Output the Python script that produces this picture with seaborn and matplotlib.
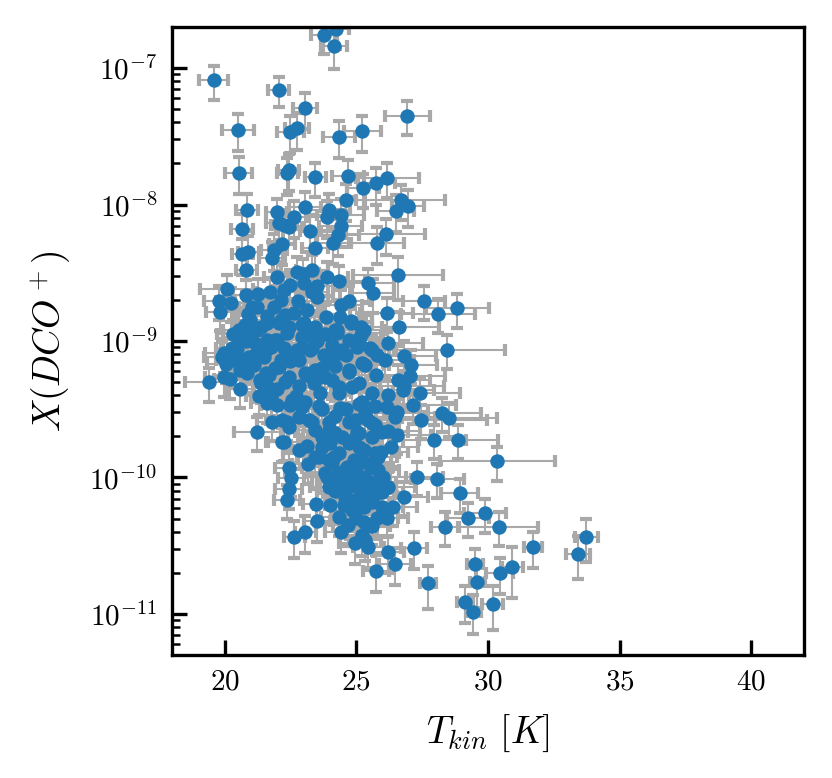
import numpy as np
import pandas as pd
import matplotlib
matplotlib.use("Agg")
import matplotlib.pyplot as plt
import seaborn as sns

# Kinetic temperature [K] of each source
t_kin = [
    23.78, 24.24, 24.16, 19.58, 22.06, 23.05, 20.51, 22.50, 22.76, 24.34,
    25.23, 26.93, 20.53, 22.38, 22.43, 23.44, 24.68, 25.26, 25.76, 26.17,
    24.62, 26.68, 26.96, 26.49, 20.85, 20.66, 21.97, 22.06, 22.25, 22.44,
    22.63, 23.06, 23.95, 23.90, 24.40, 23.26, 24.40, 24.31, 26.11, 25.80,
    24.12, 22.17, 21.87, 20.89, 23.42, 20.67, 20.83, 21.81, 22.00, 20.08,
    22.73, 22.99, 23.31, 23.90, 24.34, 25.45, 26.58, 22.50, 23.52, 25.62,
    27.56, 28.09, 28.83, 26.15, 24.71, 24.43, 26.63, 26.22, 28.44, 26.83,
    27.07, 27.05, 26.83, 26.76, 27.42, 26.20, 27.17, 26.16, 25.72, 26.54,
    28.25, 28.53, 27.46, 26.48, 27.96, 28.88, 25.09, 24.39, 23.57, 23.04,
    25.72, 26.22, 26.54, 24.33, 25.59, 25.09, 24.83, 24.07, 23.38, 23.63,
    25.74, 25.34, 24.71, 23.95, 24.45, 25.53, 25.78, 25.15, 25.02, 25.28,
    25.19, 24.26, 23.82, 23.44, 24.07, 23.31, 22.93, 24.39, 23.84, 23.31,
    22.93, 23.06, 22.81, 22.93, 23.31, 23.95, 24.71, 25.34, 25.02, 24.07,
    25.97, 19.80, 19.81, 20.25, 20.83, 21.26, 21.71, 21.05, 21.87, 20.96,
    20.54, 21.37, 22.28, 22.78, 22.13, 23.52, 21.62, 22.00, 22.38, 23.01,
    23.39, 19.97, 20.48, 20.04, 20.61, 21.11, 21.18, 21.75, 22.25, 22.13,
    22.76, 23.26, 23.77, 19.40, 19.97, 20.86, 21.37, 21.56, 21.75, 22.82,
    22.50, 21.62, 21.24, 21.81, 22.38, 20.28, 20.59, 21.04, 21.35, 21.67,
    21.98, 22.24, 22.43, 21.92, 21.23, 24.33, 25.09, 23.69, 22.17, 22.43,
    22.53, 22.43, 22.36, 23.16, 23.12, 23.48, 23.50, 23.06, 22.64, 24.35,
    24.52, 24.07, 24.33, 24.33, 24.58, 24.96, 25.21, 25.34, 24.90, 25.59,
    25.84, 25.72, 25.97, 25.59, 25.97, 25.28, 25.59, 25.34, 25.46, 25.74,
    26.22, 26.48, 26.16, 26.41, 26.83, 25.95, 26.33, 27.29, 28.08, 28.92,
    29.89, 29.23, 28.35, 27.20, 27.71, 29.51, 29.60, 29.13, 29.45, 30.36,
    30.40, 31.70, 33.74, 33.41, 30.44, 30.93, 30.18,
    24.14, 24.33, 24.58, 24.71, 24.20, 23.69, 23.44, 25.09, 25.09, 25.59,
    25.84, 24.58, 24.83, 25.15, 24.71,
    24.20, 24.64, 24.96, 25.34, 23.95, 25.21, 25.72, 25.46, 24.96, 23.95,
    23.19, 22.81, 22.43, 22.17, 23.06, 23.44, 23.82, 24.33, 24.71, 25.21,
    25.59, 25.21, 24.71, 24.20, 23.44, 22.93, 22.43, 21.58, 20.91, 20.28,
    19.90, 20.53, 20.78, 22.05, 22.05, 22.43, 21.67, 22.55, 22.81, 23.44,
    23.82, 24.20, 23.95, 26.09, 26.60, 26.22, 20.99, 21.62, 22.13, 22.63,
    23.14, 23.01, 22.25, 21.24, 24.78, 24.28,
    24.00, 24.45, 24.90, 25.30, 25.50, 25.00, 24.50, 24.80, 25.10, 25.45,
    25.70, 25.30, 25.00, 24.70, 25.20, 24.95, 24.20, 23.90, 24.00, 24.40,
    25.80, 26.00, 25.60, 24.60, 25.20, 23.70, 24.20, 23.60,
    20.30, 20.80, 21.20, 21.50, 21.90, 22.30, 22.00, 21.30, 20.60, 20.20,
    20.90, 21.60, 22.50, 22.70,
    23.70, 24.20, 24.60, 23.50, 24.80, 23.10,
]

# log10 of the DCO+ abundance
log_x = [
    -6.756, -6.716, -6.837, -7.090, -7.159, -7.295, -7.454, -7.466, -7.442, -7.505,
    -7.462, -7.349, -7.767, -7.772, -7.747, -7.801, -7.791, -7.881, -7.845, -7.806,
    -7.967, -7.967, -8.011, -8.045, -8.040, -8.180, -8.057, -8.138, -8.150, -8.162,
    -8.089, -8.020, -8.040, -8.089, -8.077, -8.192, -8.155, -8.223, -8.218, -8.280,
    -8.280, -8.289, -8.333, -8.346, -8.321, -8.363, -8.480, -8.390, -8.529, -8.621,
    -8.492, -8.509, -8.480, -8.529, -8.558, -8.577, -8.516, -8.589, -8.597, -8.651,
    -8.704, -8.802, -8.761, -8.793, -8.704, -8.736, -8.895, -9.012, -9.066, -9.108,
    -9.176, -9.256, -9.327, -9.359, -9.379, -9.398, -9.469, -9.481, -9.474, -9.518,
    -9.525, -9.562, -9.579, -9.554, -9.725, -9.725, -9.464, -9.493, -9.474, -9.445,
    -9.615, -9.657, -9.689, -9.383, -9.379, -9.310, -9.334, -9.286, -9.310, -9.383,
    -9.249, -9.176, -9.225, -9.127, -9.066, -9.054, -9.103, -8.968, -9.042, -8.919,
    -8.899, -8.919, -8.951, -8.899, -9.029, -9.054, -9.054, -8.822, -8.822, -8.639,
    -8.883, -8.956, -9.139, -9.481, -9.591, -9.591, -9.591, -9.530, -9.664, -9.664,
    -9.669, -8.707, -8.785, -8.719, -8.663, -8.656, -8.643, -8.753, -8.753, -8.846,
    -8.919, -8.899, -8.809, -8.707, -8.700, -8.675, -8.993, -8.993, -8.944, -8.871,
    -8.919, -9.090, -9.066, -9.168, -9.139, -9.176, -9.095, -9.042, -9.054, -9.139,
    -9.066, -9.066, -9.103, -9.303, -9.266, -9.237, -9.310, -9.237, -9.408, -9.330,
    -9.469, -9.457, -9.664, -9.591, -9.591, -9.054, -9.212, -9.163, -9.286, -9.346,
    -9.469, -9.737, -9.090, -8.993, -8.919, -9.090, -9.017, -9.774, -9.742, -9.928,
    -10.001, -10.087, -10.165, -9.903, -9.769, -10.194, -10.316, -10.397, -10.433, -10.287,
    -10.201, -9.896, -9.969, -10.042, -10.092, -10.165, -10.079, -9.994, -9.872, -9.921,
    -9.945, -10.030, -10.104, -10.177, -10.214, -10.323, -10.355, -10.458, -10.511, -10.683,
    -10.543, -10.634, -10.294, -10.214, -10.140, -9.811, -9.779, -9.994, -10.011, -10.116,
    -10.262, -10.294, -10.360, -10.514, -10.776, -10.636, -10.768, -10.910, -10.983, -9.883,
    -10.360, -10.511, -10.433, -10.560, -10.702, -10.658, -10.929,
    -9.847, -9.823, -9.945, -9.750, -9.677, -9.701, -9.652, -9.774, -9.677, -9.701,
    -9.847, -10.140, -10.238, -10.140, -10.018,
    -9.994, -9.921, -10.042, -10.116, -9.872, -9.872, -9.823, -9.579, -9.579, -9.652,
    -9.579, -9.554, -9.627, -9.579, -9.237, -9.212, -9.261, -9.334, -9.212, -9.163,
    -9.066, -8.944, -8.993, -8.919, -8.993, -8.968, -8.895, -9.066, -9.115, -9.139,
    -9.115, -8.968, -8.883, -8.871, -9.188, -9.261, -9.249, -9.432, -9.798, -9.847,
    -9.969, -10.067, -10.067, -9.139, -9.286, -10.067, -8.968, -8.871, -8.846, -8.797,
    -8.773, -8.577, -8.626, -8.748, -8.871, -8.944,
    -9.750, -9.700, -9.720, -9.800, -9.900, -9.930, -10.050, -10.060, -10.000, -10.050,
    -10.120, -10.220, -10.300, -10.350, -10.420, -10.480, -10.100, -10.000, -10.200, -10.400,
    -10.300, -10.000, -9.600, -9.500, -9.450, -9.500, -9.550, -9.850,
    -8.950, -9.000, -9.020, -9.120, -9.200, -9.300, -9.350, -9.400, -9.350, -9.280,
    -8.800, -8.820, -9.150, -9.400,
    -9.200, -9.180, -9.100, -9.000, -8.850, -9.250,
]

# temperature uncertainty [K]
t_err = [
    0.5, 0.5, 0.5, 0.55, 0.4, 0.45, 0.6, 0.5, 0.45, 0.6,
    0.7, 0.85, 0.5, 0.4, 0.4, 0.4, 0.6, 0.6, 0.7, 1.2,
    0.7, 1.7, 0.6, 0.7, 0.4, 0.4, 0.4, 0.5, 0.5, 0.5,
    0.5, 0.6, 0.8, 0.7, 0.9, 0.4, 0.8, 0.8, 1.5, 1.0,
    0.6, 0.5, 0.5, 0.4, 0.5, 0.4, 0.4, 0.5, 0.5, 1.0,
    0.6, 0.6, 0.6, 0.8, 1.0, 1.0, 1.7, 0.6, 0.6, 0.8,
    0.8, 1.4, 1.2, 1.0, 0.8, 0.8, 1.5, 1.3, 2.2, 1.2,
    1.0, 1.3, 1.5, 1.2, 1.5, 0.8, 1.6, 1.0, 0.8, 1.2,
    1.5, 1.8, 2.5, 1.5, 1.2, 1.5, 0.8, 0.8, 0.7, 0.7,
    0.9, 1.2, 1.3, 0.8, 0.8, 0.8, 0.8, 0.7, 0.7, 0.7,
    0.9, 0.9, 0.8, 0.8, 0.8, 0.9, 1.0, 0.8, 0.8, 0.8,
    0.8, 0.7, 0.7, 0.7, 0.7, 0.7, 0.7, 0.7, 0.7, 0.6,
    0.6, 0.6, 0.6, 0.7, 0.7, 0.7, 0.8, 0.8, 0.8, 0.7,
    1.0, 0.6, 0.5, 0.5, 0.5, 0.5, 0.5, 0.5, 0.5, 0.5,
    0.6, 0.5, 0.6, 0.6, 0.6, 0.6, 0.5, 0.5, 0.6, 0.6,
    0.6, 0.7, 0.6, 0.7, 0.6, 0.6, 0.6, 0.6, 0.6, 0.6,
    0.6, 0.7, 0.7, 0.9, 0.7, 0.6, 0.6, 0.6, 0.6, 0.7,
    0.6, 0.6, 0.9, 0.6, 0.6, 0.6, 0.6, 0.6, 0.6, 0.6,
    0.6, 0.6, 0.6, 0.6, 0.6, 0.8, 0.8, 0.7, 0.6, 0.5,
    0.5, 0.5, 0.5, 0.6, 0.6, 0.5, 0.5, 0.4, 0.4, 0.7,
    0.7, 0.7, 0.7, 0.7, 0.7, 0.7, 0.7, 0.7, 0.7, 0.8,
    0.8, 0.8, 0.8, 0.7, 0.8, 0.7, 0.7, 0.6, 0.6, 0.5,
    0.6, 0.6, 0.8, 0.9, 0.9, 1.0, 1.0, 1.0, 1.0, 0.7,
    0.8, 0.8, 0.5, 0.5, 0.3, 0.3, 0.3, 0.3, 0.3, 2.2,
    1.5, 0.35, 0.45, 0.45, 0.5, 0.4, 0.4,
    0.7, 0.7, 0.7, 0.7, 0.7, 0.7, 0.7, 0.7, 0.7, 0.7,
    0.7, 0.7, 0.7, 0.7, 0.7,
    0.7, 0.7, 0.7, 0.8, 0.7, 0.8, 0.9, 0.9, 0.8, 0.7,
    0.7, 0.6, 0.6, 0.6, 0.6, 0.7, 0.7, 0.8, 0.8, 0.8,
    0.9, 0.8, 0.8, 0.7, 0.7, 0.6, 0.6, 0.6, 0.6, 0.6,
    0.7, 0.6, 0.5, 0.5, 0.6, 0.6, 0.6, 0.6, 0.6, 0.7,
    0.7, 0.7, 0.7, 1.1, 1.2, 1.0, 0.5, 0.5, 0.6, 0.6,
    0.6, 0.6, 0.5, 0.5, 0.8, 0.8,
    0.7, 0.7, 0.7, 0.8, 0.8, 0.7, 0.7, 0.7, 0.7, 0.8,
    0.8, 0.7, 0.7, 0.6, 0.6, 0.6, 0.7, 0.6, 0.6, 0.6,
    0.8, 0.9, 0.8, 0.7, 0.8, 0.7, 0.7, 0.6,
    0.6, 0.5, 0.5, 0.5, 0.6, 0.6, 0.6, 0.5, 0.5, 0.6,
    0.5, 0.5, 0.6, 0.6,
    0.7, 0.7, 0.8, 0.7, 0.8, 0.6,
]

# fractional abundance uncertainty
x_frac_err = [
    0.28, 0.28, 0.32, 0.28, 0.25, 0.30, 0.30, 0.30, 0.30, 0.30,
    0.30, 0.28, 0.30, 0.30, 0.30, 0.28, 0.30, 0.28, 0.30, 0.28,
    0.30, 0.28, 0.30, 0.30, 0.30, 0.30, 0.25, 0.25, 0.25, 0.25,
    0.30, 0.30, 0.30, 0.30, 0.30, 0.30, 0.30, 0.30, 0.30, 0.30,
    0.30, 0.30, 0.30, 0.30, 0.30, 0.30, 0.30, 0.30, 0.28, 0.28,
    0.28, 0.28, 0.28, 0.28, 0.28, 0.28, 0.35, 0.28, 0.28, 0.28,
    0.28, 0.28, 0.28, 0.28, 0.28, 0.28, 0.28, 0.28, 0.28, 0.28,
    0.28, 0.28, 0.28, 0.28, 0.28, 0.28, 0.28, 0.28, 0.28, 0.28,
    0.28, 0.28, 0.28, 0.28, 0.28, 0.28, 0.28, 0.28, 0.28, 0.28,
    0.28, 0.28, 0.28, 0.28, 0.28, 0.28, 0.28, 0.28, 0.28, 0.28,
    0.28, 0.28, 0.28, 0.28, 0.28, 0.28, 0.28, 0.28, 0.28, 0.28,
    0.28, 0.28, 0.28, 0.28, 0.28, 0.28, 0.28, 0.28, 0.28, 0.28,
    0.28, 0.28, 0.28, 0.28, 0.28, 0.28, 0.28, 0.28, 0.28, 0.28,
    0.28, 0.28, 0.28, 0.28, 0.28, 0.28, 0.28, 0.28, 0.28, 0.28,
    0.28, 0.28, 0.28, 0.28, 0.28, 0.28, 0.28, 0.28, 0.28, 0.28,
    0.28, 0.28, 0.28, 0.28, 0.28, 0.28, 0.28, 0.28, 0.28, 0.28,
    0.28, 0.28, 0.28, 0.28, 0.28, 0.28, 0.28, 0.28, 0.28, 0.28,
    0.28, 0.28, 0.28, 0.28, 0.28, 0.28, 0.28, 0.28, 0.28, 0.28,
    0.28, 0.28, 0.28, 0.28, 0.28, 0.28, 0.28, 0.28, 0.28, 0.28,
    0.28, 0.28, 0.28, 0.28, 0.28, 0.28, 0.30, 0.30, 0.30, 0.28,
    0.28, 0.28, 0.28, 0.28, 0.28, 0.28, 0.28, 0.28, 0.28, 0.28,
    0.28, 0.28, 0.28, 0.28, 0.28, 0.28, 0.28, 0.30, 0.30, 0.30,
    0.30, 0.30, 0.28, 0.28, 0.28, 0.28, 0.28, 0.28, 0.28, 0.28,
    0.28, 0.28, 0.28, 0.30, 0.35, 0.30, 0.35, 0.30, 0.32, 0.28,
    0.28, 0.30, 0.35, 0.35, 0.30, 0.40, 0.35,
    0.28, 0.28, 0.28, 0.28, 0.28, 0.28, 0.28, 0.28, 0.28, 0.28,
    0.28, 0.28, 0.28, 0.28, 0.28,
    0.28, 0.28, 0.28, 0.28, 0.28, 0.28, 0.28, 0.28, 0.28, 0.28,
    0.28, 0.28, 0.28, 0.28, 0.28, 0.28, 0.28, 0.28, 0.28, 0.28,
    0.28, 0.28, 0.28, 0.28, 0.28, 0.28, 0.28, 0.28, 0.28, 0.28,
    0.28, 0.28, 0.28, 0.28, 0.28, 0.28, 0.28, 0.28, 0.28, 0.28,
    0.28, 0.28, 0.28, 0.28, 0.28, 0.28, 0.28, 0.28, 0.28, 0.28,
    0.28, 0.28, 0.28, 0.28, 0.28, 0.28,
    0.28, 0.28, 0.28, 0.28, 0.28, 0.28, 0.28, 0.28, 0.28, 0.28,
    0.28, 0.28, 0.28, 0.30, 0.30, 0.30, 0.28, 0.28, 0.28, 0.30,
    0.28, 0.28, 0.28, 0.28, 0.28, 0.28, 0.28, 0.28,
    0.28, 0.28, 0.28, 0.28, 0.28, 0.28, 0.28, 0.28, 0.28, 0.28,
    0.28, 0.28, 0.28, 0.28,
    0.28, 0.28, 0.28, 0.28, 0.28, 0.28,
]

df = pd.DataFrame({"T": t_kin, "logX": log_x, "Terr": t_err, "frac": x_frac_err})
df["X"] = 10.0 ** df["logX"]
df["Xerr"] = df["X"] * df["frac"]

plt.rcParams["font.family"] = "serif"
plt.rcParams["font.serif"] = ["cmr10", "DejaVu Serif"]
plt.rcParams["mathtext.fontset"] = "cm"
plt.rcParams["axes.formatter.use_mathtext"] = True
plt.rcParams["axes.unicode_minus"] = False

fig = plt.figure(figsize=(832 / 300, 778 / 300), dpi=300)
ax = fig.add_axes([0.2067, 0.1581, 0.7596, 0.8072])

# error bars first, points on top
ax.errorbar(df["T"], df["X"], xerr=df["Terr"], yerr=df["Xerr"], fmt="none",
            ecolor="darkgray", elinewidth=0.5, capsize=1.4, capthick=1.0, zorder=1)
sns.scatterplot(data=df, x="T", y="X", ax=ax, color="#1f77b4", s=12,
                linewidth=0, zorder=2)

ax.set_yscale("log")
ax.set_xlim(18, 42)
ax.set_ylim(5e-12, 2e-7)
ax.set_xticks([20, 25, 30, 35, 40])
ax.tick_params(axis="both", which="both", direction="in", labelsize=7)
ax.set_xlabel(r"$T_{kin}\ [K]$", fontsize=9)
ax.set_ylabel(r"$X(DCO^+)$", fontsize=9)

fig.savefig("out.png", dpi=300)
